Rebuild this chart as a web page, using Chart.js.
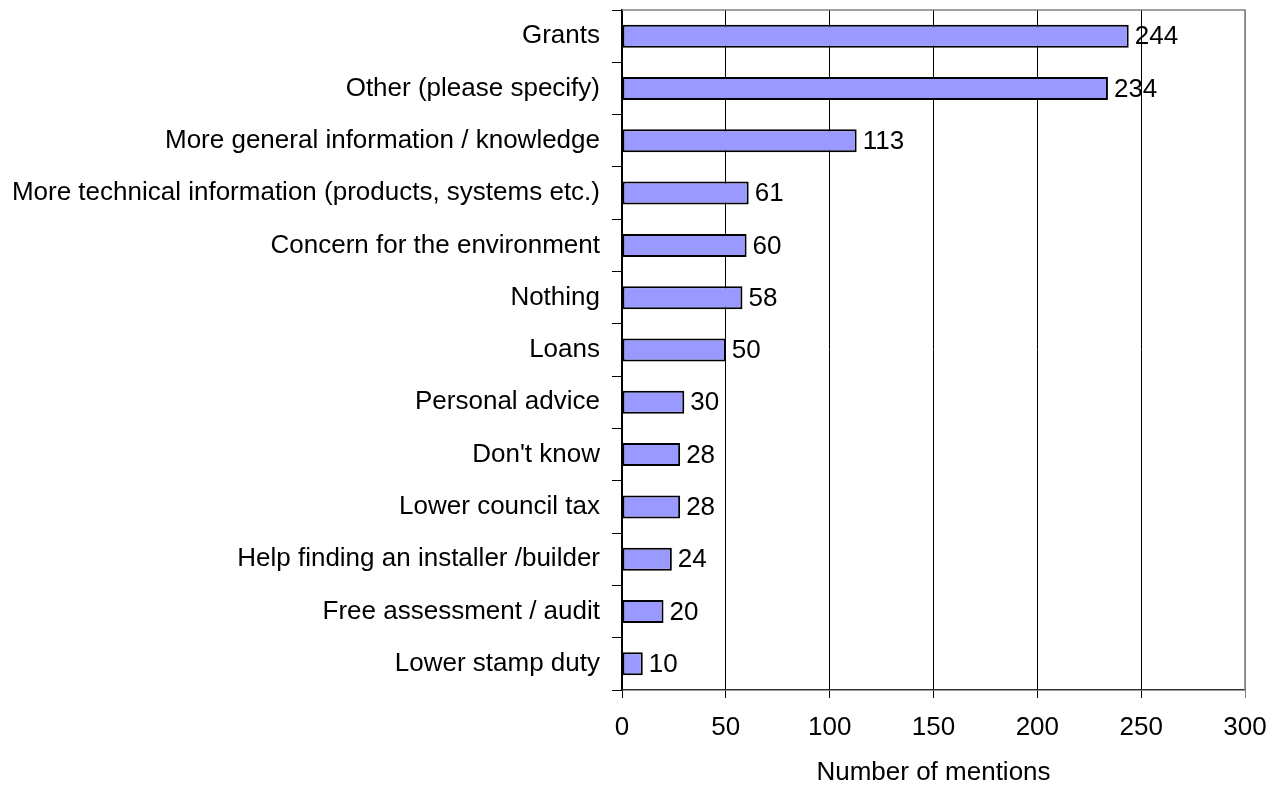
<!DOCTYPE html>
<html>
<head>
<meta charset="utf-8">
<script src="https://cdn.jsdelivr.net/npm/chart.js@4/dist/chart.umd.min.js"></script>
<style>
  html, body { margin: 0; padding: 0; background: #fff; }
  #wrap { width: 1282px; height: 788px; }
</style>
</head>
<body>
<div id="wrap"><canvas id="myChart"></canvas></div>
<script>
const categories = [
    'Grants',
    'Other (please specify)',
    'More general information / knowledge',
    'More technical information (products, systems etc.)',
    'Concern for the environment',
    'Nothing',
    'Loans',
    'Personal advice',
    "Don't know",
    'Lower council tax',
    'Help finding an installer /builder',
    'Free assessment / audit',
    'Lower stamp duty'
];
const mentions = [244, 234, 113, 61, 60, 58, 50, 30, 28, 28, 24, 20, 10];
const xTicks = [0, 50, 100, 150, 200, 250, 300];

const FONT = '"Liberation Sans", Arial, sans-serif';

// value labels to the right of each bar
const barValues = {
    id: 'barValues',
    afterDatasetsDraw(chart) {
        const ctx = chart.ctx;
        const meta = chart.getDatasetMeta(0);
        ctx.save();
        ctx.font = '26px ' + FONT;
        ctx.fillStyle = '#000';
        ctx.textBaseline = 'middle';
        ctx.textAlign = 'left';
        meta.data.forEach((bar, i) => {
            ctx.fillText(String(mentions[i]), bar.x + 6, bar.y + 1);
        });
        ctx.restore();
    }
};

// grey frame on the top and right of the plot
const plotFrame = {
    id: 'plotFrame',
    afterDraw(chart) {
        const a = chart.chartArea;
        const ctx = chart.ctx;
        ctx.save();
        ctx.strokeStyle = '#808080';
        ctx.lineWidth = 1.5;
        ctx.beginPath();
        ctx.moveTo(a.left, a.top);
        ctx.lineTo(a.right, a.top);
        ctx.lineTo(a.right, a.bottom);
        ctx.stroke();
        ctx.restore();
    }
};

Chart.defaults.font.family = FONT;
Chart.defaults.color = '#000';

new Chart(document.getElementById('myChart'), {
    type: 'bar',
    data: {
        labels: categories,
        datasets: [{
            data: mentions,
            backgroundColor: '#9999FF',
            borderColor: '#000',
            borderWidth: 2,
            borderSkipped: false,
            barPercentage: 0.44,
            categoryPercentage: 1
        }]
    },
    options: {
        indexAxis: 'y',
        responsive: true,
        maintainAspectRatio: false,
        animation: false,
        layout: { padding: { left: 0, right: 37, top: 10, bottom: 0 } },
        plugins: {
            legend: { display: false },
            tooltip: { enabled: false }
        },
        scales: {
            x: {
                min: 0,
                max: 300,
                afterBuildTicks: (scale) => { scale.ticks = xTicks.map(v => ({ value: v })); },
                afterFit: (scale) => { scale.height = 98; },
                grid: {
                    color: (c) => c.tick && c.tick.value === 300 ? '#808080' : '#000',
                    lineWidth: 1,
                    tickLength: 8,
                    drawOnChartArea: true
                },
                border: { color: '#333', width: 1.5 },
                ticks: { font: { size: 26 }, padding: 14, color: '#000' },
                title: {
                    display: true,
                    text: 'Number of mentions',
                    font: { size: 26 },
                    color: '#000',
                    padding: { top: 10, bottom: 0 }
                }
            },
            y: {
                afterFit: (scale) => {
                    scale.width = 622;
                    scale.paddingTop = 0;
                    scale.paddingBottom = 0;
                },
                grid: {
                    offset: true,
                    drawOnChartArea: false,
                    color: '#000',
                    tickLength: 10
                },
                border: { color: '#000', width: 1.5 },
                ticks: { font: { size: 26 }, padding: 12, color: '#000', autoSkip: false }
            }
        }
    },
    plugins: [barValues, plotFrame]
});
</script>
</body>
</html>
